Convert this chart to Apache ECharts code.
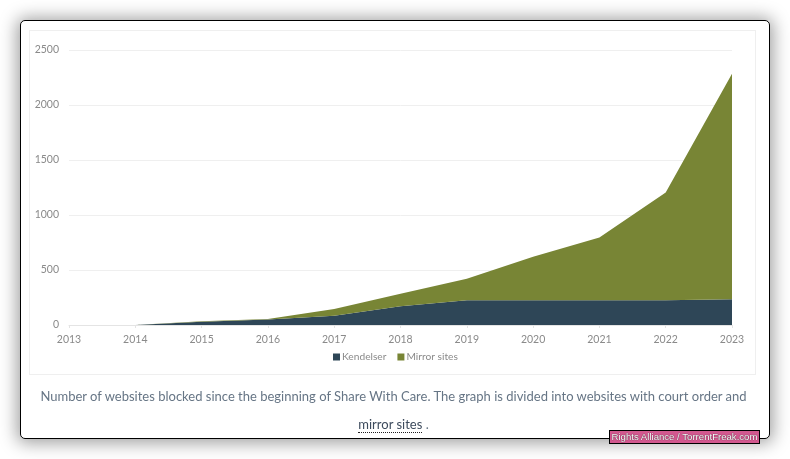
<!DOCTYPE html>
<html>
<head>
<meta charset="utf-8">
<style>
html, body { margin: 0; padding: 0; background: #fff; overflow: hidden; }
#card { position: absolute; left: 20px; top: 20px; width: 748px; height: 417px; background: #fff; border: 1px solid #000; border-radius: 5px; box-shadow: 0 1px 17px 3px rgba(0,0,0,0.38); }
#box { position: absolute; left: 29px; top: 30px; width: 725px; height: 343px; border: 1px solid #efefef; }
#main { position: absolute; left: 0; top: 0; width: 790px; height: 459px; }
.caption { position: absolute; left: 0; width: 787px; text-align: center; font-family: Lato, sans-serif; font-size: 13px; color: #667585; letter-spacing: 0; white-space: nowrap; }
.caption a { color: #3c4a5c; border-bottom: 1px dotted #222; }
#mark { position: absolute; left: 609px; top: 430px; width: 149px; height: 12px; line-height: 12px; background: #d2588f; border: 1px solid #000; color: #fff; font-family: "Liberation Sans", sans-serif; font-size: 9.6px; text-align: center; text-shadow: 0 0 1px #000; white-space: nowrap; overflow: hidden; }
</style>
</head>
<body>
<div id="card"></div>
<div id="box"></div>
<div id="main"></div>
<div class="caption" style="top:388px">Number of websites blocked since the beginning of Share With Care. The graph is divided into websites with court order and</div>
<div class="caption" style="top:416px"><a>mirror sites</a> .</div>
<div id="mark">Rights Alliance / TorrentFreak.com</div>
<script src="https://cdn.jsdelivr.net/npm/echarts@6/dist/echarts.min.js"></script>
<script>
var years = ['2013','2014','2015','2016','2017','2018','2019','2020','2021','2022','2023'];
var kendelser = [null, 0, 30, 50, 85, 170, 225, 225, 225, 225, 235];
var mirrorSites = [null, 0, 5, 5, 60, 115, 195, 395, 570, 980, 2050];

var myChart = echarts.init(document.getElementById('main'));
var option = {
    animation: false,
    textStyle: { fontFamily: 'Lato, sans-serif' },
    grid: { left: 69, right: 58, top: 50, bottom: 134 },
    legend: {
        top: 347,
        left: 328,
        data: ['Kendelser', 'Mirror sites'],
        icon: 'rect',
        itemWidth: 7,
        itemHeight: 7,
        itemGap: 11,
        textStyle: { color: '#8a8a8a', fontSize: 10.2, padding: [0, 0, 0, -3] }
    },
    xAxis: {
        type: 'category',
        boundaryGap: false,
        data: years,
        axisLine: { lineStyle: { color: '#e4e4e4' } },
        axisTick: { show: true, alignWithLabel: true, length: 3, lineStyle: { color: '#e4e4e4' } },
        axisLabel: { color: '#8a8a8a', fontSize: 10.5, margin: 9 }
    },
    yAxis: {
        type: 'value',
        min: 0,
        max: 2500,
        interval: 500,
        axisLine: { show: false },
        axisTick: { show: false },
        axisLabel: { color: '#8a8a8a', fontSize: 10.5, margin: 10, formatter: function (v) { return String(v); } },
        splitLine: { lineStyle: { color: '#efefef', width: 1 } }
    },
    series: [
        { name: 'Kendelser', type: 'line', stack: 'total', data: kendelser, symbol: 'none',
          lineStyle: { width: 0 }, itemStyle: { color: '#2e4657' }, areaStyle: { color: '#2e4657', opacity: 1 } },
        { name: 'Mirror sites', type: 'line', stack: 'total', data: mirrorSites, symbol: 'none',
          lineStyle: { width: 0 }, itemStyle: { color: '#788535' }, areaStyle: { color: '#788535', opacity: 1 } }
    ]
};
myChart.setOption(option);
</script>
</body>
</html>
